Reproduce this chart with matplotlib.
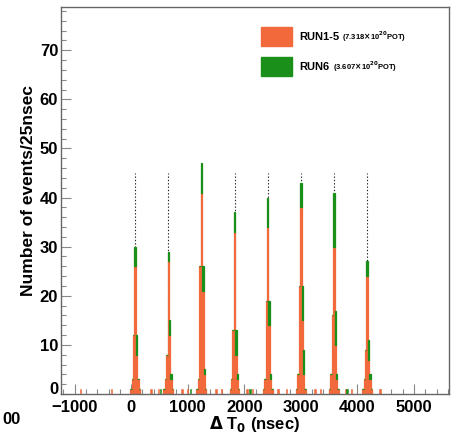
import matplotlib.pyplot as plt
import numpy as np
from matplotlib.patches import Rectangle
from matplotlib.ticker import MultipleLocator, FuncFormatter

plt.rcParams['font.family'] = ['Liberation Sans', 'DejaVu Sans']
plt.rcParams['font.weight'] = 'bold'

ORANGE = '#f26a3b'
GREEN = '#1a8f1a'

# bunch centres (ns) and bin offsets inside a bunch (25 ns bins)
bunch_t = [70, 656, 1242, 1828, 2414, 3000, 3586, 4172]
offsets = [-75, -50, -25, 0, 25, 50, 75]

# RUN1-5 counts per bin, one row per bunch
run15 = [
    [1, 3, 12, 26, 8, 3, 1],
    [1, 3, 8, 27, 12, 3, 1],
    [1, 3, 26, 41, 21, 4, 1],
    [1, 3, 13, 33, 8, 3, 1],
    [1, 3, 19, 34, 14, 3, 1],
    [1, 4, 22, 38, 15, 4, 1],
    [1, 4, 16, 30, 10, 3, 1],
    [1, 3, 9, 24, 7, 3, 1],
]
# RUN6 counts per bin, stacked on top
run6 = [
    [0, 0, 0, 4, 4, 0, 0],
    [0, 0, 0, 2, 3, 1, 0],
    [0, 0, 0, 6, 5, 1, 0],
    [0, 0, 0, 4, 5, 1, 0],
    [0, 0, 0, 6, 5, 1, 0],
    [0, 0, 0, 5, 7, 5, 0],
    [0, 0, 0, 11, 7, 1, 0],
    [0, 0, 0, 3, 4, 1, 0],
]

# isolated single-count bins between bunches
bkg15_t = [-900, -350, 350, 480, 900, 1000, 1500, 1600, 2050, 2150,
           2600, 2750, 3250, 3350, 3800, 3900, 4400]
bkg6_t = [520, 1050, 2100, 3820]

bunch_line_top = 45

fig = plt.figure(figsize=(4.51, 4.34), dpi=100)
ax = fig.add_axes([61 / 451, 1 - 394 / 434, 388 / 451, 387 / 434])

x_all, o_all, g_all = [], [], []
for t, o_row, g_row in zip(bunch_t, run15, run6):
    for off, o, g in zip(offsets, o_row, g_row):
        x_all.append(t + off)
        o_all.append(o)
        g_all.append(g)
x_all = np.array(x_all)
o_all = np.array(o_all)
g_all = np.array(g_all)

ax.vlines(bunch_t, 0, bunch_line_top, colors='#222222', linestyles=(0, (1.2, 1.8)),
          lw=0.8, zorder=1)
ax.bar(x_all, o_all, width=25, color=ORANGE, edgecolor=ORANGE, lw=0.9, zorder=2)
ax.bar(x_all, g_all, bottom=o_all, width=25, color=GREEN, edgecolor=GREEN,
       lw=0.9, zorder=2)
ax.bar(bkg15_t, [1] * len(bkg15_t), width=25, color=ORANGE, edgecolor=ORANGE,
       lw=0.4, zorder=2)
ax.bar(bkg6_t, [1] * len(bkg6_t), width=25, color=GREEN, edgecolor=GREEN,
       lw=0.4, zorder=2)

ax.set_xlim(-1240, 5620)
ax.set_ylim(0, 78.8)
ax.xaxis.set_major_locator(MultipleLocator(1000))
ax.xaxis.set_minor_locator(MultipleLocator(200))
ax.yaxis.set_major_locator(MultipleLocator(10))
ax.yaxis.set_minor_locator(MultipleLocator(2))
# the y "0" is drawn by hand a bit higher, as ROOT does
ax.yaxis.set_major_formatter(FuncFormatter(lambda v, p: '' if v == 0 else f'{v:.0f}'))
ax.tick_params(which='both', direction='in', color='#888888', labelsize=12)
ax.tick_params(which='major', length=7, width=0.8)
ax.tick_params(which='minor', length=3.5, width=0.8)
ax.tick_params(axis='x', pad=4)
ax.tick_params(axis='y', pad=2)
for sp in ax.spines.values():
    sp.set_color('#666666')
    sp.set_linewidth(1.0)

fig.text(58 / 451, 1 - 397 / 434, '0', ha='right', va='bottom',
         fontsize=12, fontweight='bold')
fig.text(29 / 451, 1 - 190 / 434, 'Number of events/25nsec', rotation=90,
         ha='center', va='center', fontsize=12.5, fontweight='bold')
fig.text(255 / 451, 1 - 424 / 434, r'$\Delta$ T$_\mathbf{0}$ (nsec)',
         ha='center', va='center', fontsize=12, fontweight='bold')
fig.text(2 / 451, 1 - 419 / 434, '00', ha='left', va='center',
         fontsize=12, fontweight='bold')

# legend drawn by hand (ROOT style, no border)
for y_top, col, name, pot, dx in [(27, ORANGE, 'RUN1-5', r'(7.318$\times$10$^{20}$POT)', 43),
                                  (57, GREEN, 'RUN6', r'(3.607$\times$10$^{20}$POT)', 34)]:
    fig.patches.append(Rectangle((261 / 451, 1 - (y_top + 19) / 434), 31 / 451, 19 / 434,
                                 transform=fig.transFigure, color=col))
    fig.text(299 / 451, 1 - (y_top + 9.5) / 434, name, ha='left', va='center',
             fontsize=8, fontweight='bold')
    fig.text((299 + dx) / 451, 1 - (y_top + 10) / 434, pot,
             ha='left', va='center', fontsize=5.5, fontweight='bold')

fig.savefig('out.png', dpi=100)
